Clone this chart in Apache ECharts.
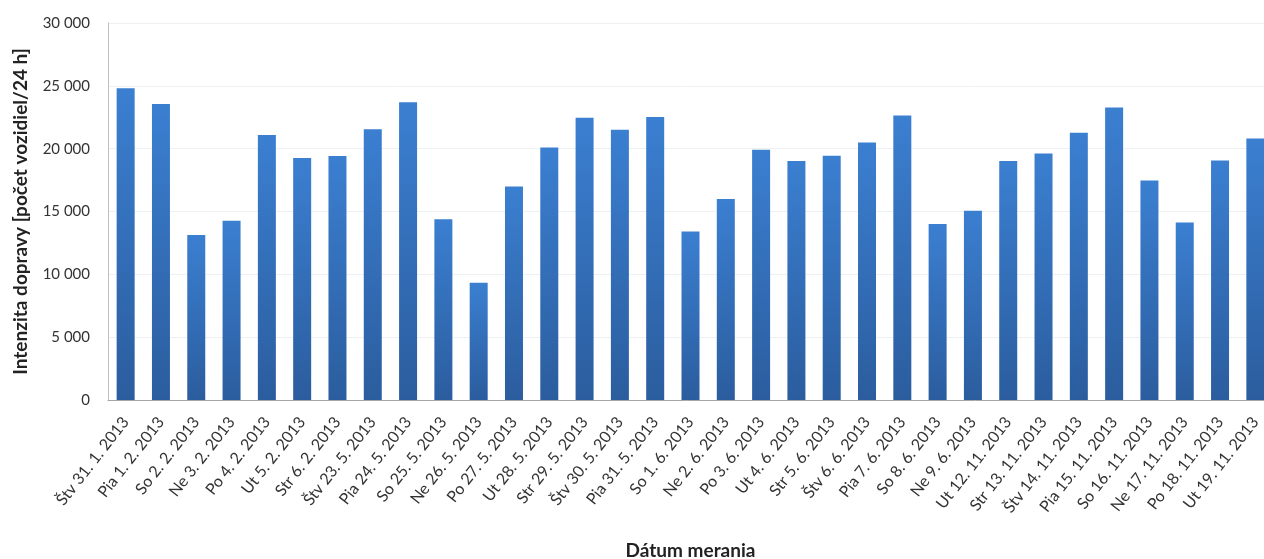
<!DOCTYPE html>
<html>
<head>
<meta charset="utf-8">
<script src="https://cdn.jsdelivr.net/npm/echarts@6/dist/echarts.min.js"></script>
<style>
  html, body { margin: 0; padding: 0; background: #ffffff; }
  #chart { width: 1264px; height: 559px; }
</style>
</head>
<body>
<div id="chart"></div>
<script>
// Measurement days
const days = [
  'Štv 31. 1. 2013', 'Pia 1. 2. 2013', 'So 2. 2. 2013', 'Ne 3. 2. 2013', 'Po 4. 2. 2013',
  'Ut 5. 2. 2013', 'Str 6. 2. 2013', 'Štv 23. 5. 2013', 'Pia 24. 5. 2013', 'So 25. 5. 2013',
  'Ne 26. 5. 2013', 'Po 27. 5. 2013', 'Ut 28. 5. 2013', 'Str 29. 5. 2013', 'Štv 30. 5. 2013',
  'Pia 31. 5. 2013', 'So 1. 6. 2013', 'Ne 2. 6. 2013', 'Po 3. 6. 2013', 'Ut 4. 6. 2013',
  'Str 5. 6. 2013', 'Štv 6. 6. 2013', 'Pia 7. 6. 2013', 'So 8. 6. 2013', 'Ne 9. 6. 2013',
  'Ut 12. 11. 2013', 'Str 13. 11. 2013', 'Štv 14. 11. 2013', 'Pia 15. 11. 2013', 'So 16. 11. 2013',
  'Ne 17. 11. 2013', 'Po 18. 11. 2013', 'Ut 19. 11. 2013'
];

// Daily traffic volume (vehicles / 24 h)
const traffic = [
  24800, 23550, 13130, 14270, 21090,
  19260, 19420, 21540, 23690, 14380,
  9340, 16980, 20100, 22470, 21510,
  22520, 13410, 16000, 19910, 19010,
  19430, 20500, 22630, 14000, 15060,
  19010, 19620, 21270, 23270, 17460,
  14130, 19060, 20800
];

// Value axis ticks
const yTicks = [0, 5000, 10000, 15000, 20000, 25000, 30000];

// Thousands separated by a space: 25000 -> "25 000"
const fmt = v => {
  const s = String(Math.round(v));
  return s.length > 3 ? s.slice(0, s.length - 3) + ' ' + s.slice(-3) : s;
};

const FONT = 'Lato, "Open Sans", sans-serif';

const chart = echarts.init(document.getElementById('chart'), null, { renderer: 'canvas' });

chart.setOption({
  animation: false,
  backgroundColor: '#ffffff',
  textStyle: { fontFamily: FONT },
  grid: {
    left: 108, top: 23, width: 1165, height: 377,
    containLabel: false,
    outerBoundsMode: 'none'
  },
  xAxis: {
    type: 'category',
    data: days,
    axisLine: { lineStyle: { color: '#a6a6a6', width: 1 } },
    axisTick: { show: false },
    axisLabel: {
      rotate: 52,
      interval: 0,
      margin: 19,
      color: '#333333',
      fontSize: 16,
      fontFamily: FONT
    },
    name: 'Dátum merania',
    nameLocation: 'middle',
    nameGap: 141,
    nameTextStyle: {
      color: '#222222',
      fontSize: 19,
      fontWeight: 'bold',
      fontFamily: FONT
    }
  },
  yAxis: {
    type: 'value',
    min: yTicks[0],
    max: yTicks[yTicks.length - 1],
    interval: yTicks[1] - yTicks[0],
    axisLine: { show: true, lineStyle: { color: '#bfbfbf', width: 1 } },
    axisTick: { show: false },
    splitLine: { lineStyle: { color: '#eef1f4', width: 1 } },
    axisLabel: {
      color: '#333333',
      fontSize: 15,
      margin: 18,
      fontFamily: FONT,
      formatter: fmt
    },
    name: 'Intenzita dopravy [počet vozidiel/24 h]',
    nameLocation: 'middle',
    nameRotate: 90,
    nameGap: 78,
    nameTextStyle: {
      color: '#222222',
      fontSize: 19,
      fontWeight: 'bold',
      fontFamily: FONT
    }
  },
  series: [{
    type: 'bar',
    data: traffic,
    barWidth: 18,
    itemStyle: {
      color: new echarts.graphic.LinearGradient(0, 0, 0, 1, [
        { offset: 0, color: '#3b7fd1' },
        { offset: 1, color: '#2b5d9e' }
      ])
    }
  }]
});
</script>
</body>
</html>
